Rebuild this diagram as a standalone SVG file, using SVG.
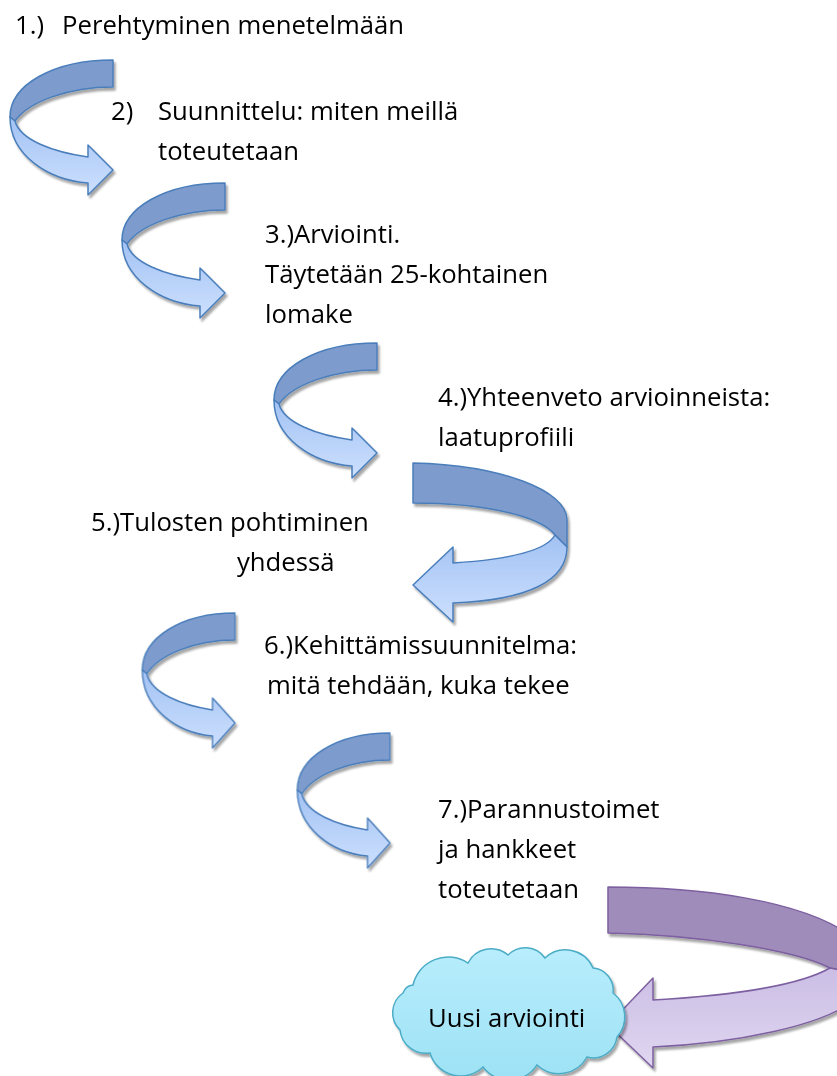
<svg xmlns="http://www.w3.org/2000/svg" width="837" height="1076" viewBox="0 0 837 1076">
<style>
text{font-family:"Open Sans","Liberation Sans",sans-serif;font-size:25.7px;fill:#000}
.bd{fill:#7d9ccd;stroke:#4a7ebb;stroke-width:1.5;stroke-linejoin:round}
.bl{fill:url(#gBlue);stroke:#4a7ebb;stroke-width:1.5;stroke-linejoin:round}
.pd{fill:#9f8cba;stroke:#7d60a0;stroke-width:1.5;stroke-linejoin:round}
.pl{fill:url(#gPurple);stroke:#7d60a0;stroke-width:1.5;stroke-linejoin:round}
.cl{fill:url(#gCloud);stroke:#4bacc6;stroke-width:1.5}
</style>
<defs>
<linearGradient id="gBlue" x1="0" y1="0" x2="0" y2="1"><stop offset="0" stop-color="#a2c2f3"/><stop offset="1" stop-color="#cde0fe"/></linearGradient>
<linearGradient id="gPurple" x1="0" y1="0" x2="0" y2="1"><stop offset="0" stop-color="#cbbde5"/><stop offset="1" stop-color="#e0d7f0"/></linearGradient>
<linearGradient id="gCloud" x1="0" y1="0" x2="0" y2="1"><stop offset="0" stop-color="#b8edfc"/><stop offset="1" stop-color="#9de2f5"/></linearGradient>
<filter id="sh" x="-20%" y="-20%" width="150%" height="150%"><feDropShadow dx="2" dy="3" stdDeviation="1.2" flood-color="#000" flood-opacity="0.35"/></filter>
<g id="curl">
<path class="bd" d="M0,0 C-60,0 -103,25 -103,57 L-98,61 C-85,42 -45,27 0,27 Z"/>
<path class="bl" d="M-103,57 C-103,95 -65,120 -25,123 L-25,135 L0,110 L-25,85 L-25,97 C-60,92 -93,80 -98,61 Z"/>
</g>
</defs>
<g id="connectors" filter="url(#sh)">
<use id="arrow1" href="#curl" transform="translate(113,60)"/>
<use id="arrow2" href="#curl" transform="translate(225,183)"/>
<use id="arrow3" href="#curl" transform="translate(377,343)"/>
<g id="arrow4">
<path class="bd" d="M413,463 C500,465 567,490 567,520 L567,547 L555,535 C540,515 480,503 413,503 Z"/>
<path class="bl" d="M555,535 L567,547 C567,580 530,600 453,603 L453,622 L413,585 L453,547 L453,563 C500,560 545,553 555,535 Z"/>
</g>
<use id="arrow5" href="#curl" transform="translate(235,613) scale(0.9,1)"/>
<use id="arrow6" href="#curl" transform="translate(390,733) scale(0.9,1)"/>
<g id="arrow7">
<path class="pd" d="M608,887 C700,887 800,900 850,935 L850,972 L830,968 C795,950 700,935 608,933 Z"/>
<path class="pl" d="M830,968 L850,972 L850,1003 C820,1025 740,1043 653,1047 L653,1068 L608,1025 L653,978 L653,1000 C740,995 800,985 830,968 Z"/>
</g>
</g>
<g id="step1"><text x="15" y="34">1.)</text><text x="62" y="34">Perehtyminen menetelmään</text></g>
<g id="step2"><text x="111" y="120">2)</text><text x="158" y="120">Suunnittelu: miten meillä</text><text x="158" y="160">toteutetaan</text></g>
<g id="step3"><text x="265" y="243">3.)Arviointi.</text><text x="265" y="283">Täytetään 25-kohtainen</text><text x="265" y="323">lomake</text></g>
<g id="step4"><text x="438" y="406">4.)Yhteenveto arvioinneista:</text><text x="438" y="446">laatuprofiili</text></g>
<g id="step5"><text x="91" y="531">5.)Tulosten pohtiminen</text><text x="237" y="571">yhdessä</text></g>
<g id="step6"><text x="264" y="654">6.)Kehittämissuunnitelma:</text><text x="267" y="694">mitä tehdään, kuka tekee</text></g>
<g id="step7"><text x="438" y="818">7.)Parannustoimet</text><text x="438" y="858">ja hankkeet</text><text x="438" y="898">toteutetaan</text></g>
<g id="cloud">
<path class="cl" filter="url(#sh)" d="M413,985 A36,36 0 0 1 468,963 A26,26 0 0 1 508,955 A24,24 0 0 1 545,958 A30,30 0 0 1 593,968 A22,22 0 0 1 613,993 A30,30 0 0 1 617,1037 A24,24 0 0 1 587,1057 A32,32 0 0 1 537,1065 A33,33 0 0 1 483,1067 A32,32 0 0 1 430,1053 A26,26 0 0 1 400,1030 A24,24 0 0 1 403,993 A12,12 0 0 1 413,985 Z"/>
<text x="428" y="1027">Uusi arviointi</text>
</g>
</svg>
